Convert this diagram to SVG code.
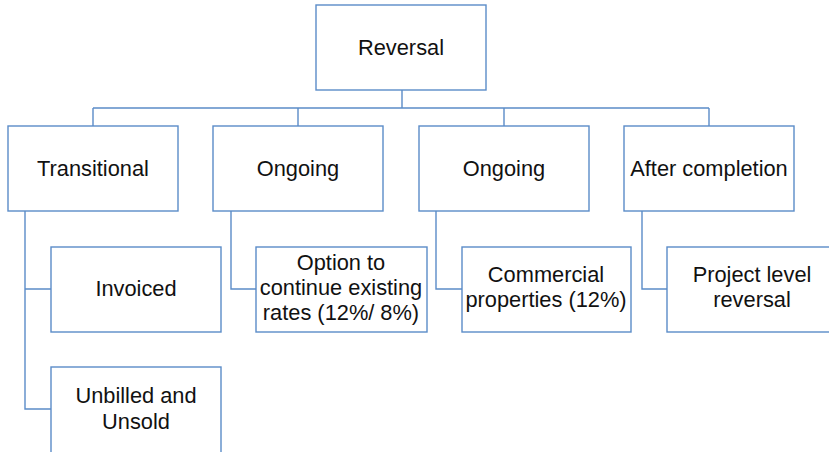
<svg xmlns="http://www.w3.org/2000/svg" width="829" height="452" viewBox="0 0 829 452">
  <style>
    .box { fill: #ffffff; stroke: #5b8cc8; stroke-width: 1.4; }
    .wire { fill: none; stroke: #5b8cc8; stroke-width: 1.4; }
    text { font-family: "Liberation Sans", Arial, sans-serif; font-size: 21.8px; fill: #111111; text-anchor: middle; }
  </style>
  <rect width="829" height="452" fill="#ffffff"/>

  <!-- connectors -->
  <g id="connectors">
    <path class="wire" d="M402 90 V108 M93 108 H709 M93 108 V126 M298 108 V126 M504 108 V126 M709 108 V126"/>
    <path class="wire" d="M25 211 V409 H51 M25 289 H51"/>
    <path class="wire" d="M231 211 V289 H256"/>
    <path class="wire" d="M436 211 V289 H462"/>
    <path class="wire" d="M642 211 V289 H667"/>
  </g>

  <g id="reversal">
    <rect class="box" x="316" y="5" width="170" height="85"/>
    <text x="401" y="55">Reversal</text>
  </g>

  <g id="transitional">
    <rect class="box" x="8" y="126" width="170" height="85"/>
    <text x="93" y="176">Transitional</text>
  </g>
  <g id="ongoing-a">
    <rect class="box" x="213" y="126" width="170" height="85"/>
    <text x="298" y="176">Ongoing</text>
  </g>
  <g id="ongoing-b">
    <rect class="box" x="419" y="126" width="170" height="85"/>
    <text x="504" y="176">Ongoing</text>
  </g>
  <g id="after-completion">
    <rect class="box" x="624" y="126" width="170" height="85"/>
    <text x="709" y="176">After completion</text>
  </g>

  <g id="invoiced">
    <rect class="box" x="51" y="247" width="170" height="85"/>
    <text x="136" y="296">Invoiced</text>
  </g>
  <g id="unbilled-unsold">
    <rect class="box" x="51" y="367" width="170" height="90"/>
    <text x="136" y="403">Unbilled and</text>
    <text x="136" y="429">Unsold</text>
  </g>
  <g id="option-existing-rates">
    <rect class="box" x="256" y="247" width="171" height="85"/>
    <text x="341" y="270">Option to</text>
    <text x="341" y="295">continue existing</text>
    <text x="341" y="320">rates (12%/ 8%)</text>
  </g>
  <g id="commercial-properties">
    <rect class="box" x="462" y="247" width="169" height="85"/>
    <text x="546" y="282">Commercial</text>
    <text x="546" y="307">properties (12%)</text>
  </g>
  <g id="project-level">
    <rect class="box" x="667" y="247" width="170" height="85"/>
    <text x="752" y="282">Project level</text>
    <text x="752" y="307">reversal</text>
  </g>
</svg>
